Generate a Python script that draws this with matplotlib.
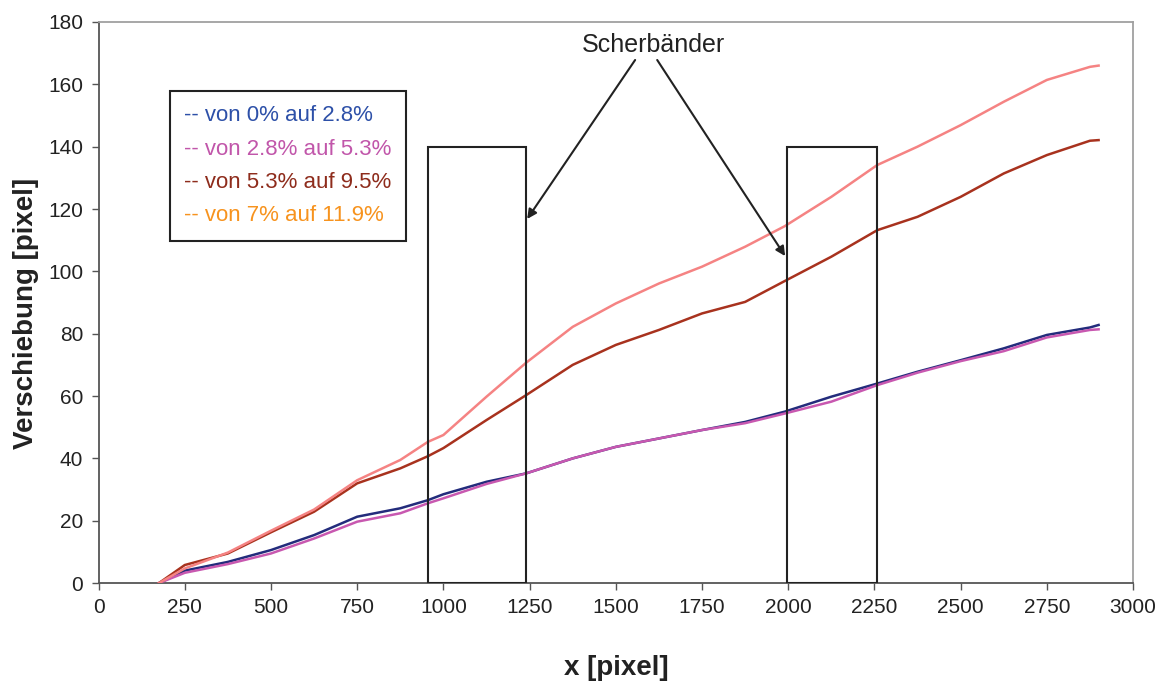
import matplotlib
matplotlib.use("Agg")
import matplotlib.pyplot as plt
from matplotlib.lines import Line2D
from matplotlib.patches import Rectangle

plt.rcParams['font.family'] = ['Liberation Sans', 'DejaVu Sans']

x = [175, 250, 375, 500, 625, 750, 875, 955, 1000, 1125, 1240, 1375, 1500,
     1625, 1750, 1875, 1990, 2125, 2258, 2375, 2500, 2625, 2750, 2875, 2900]
v_0_28 = [0, 4, 6.8, 10.6, 15.4, 21.3, 24, 26.6, 28.5, 32.5, 35.2, 40, 43.7,
          46.4, 49.1, 51.7, 55, 59.8, 64, 67.8, 71.5, 75.3, 79.6, 82, 82.8]
v_28_53 = [0, 3.3, 6.1, 9.5, 14.3, 19.7, 22.4, 25.6, 27.2, 31.8, 35.2, 40, 43.7,
           46.4, 49.1, 51.3, 54.4, 58.2, 63.5, 67.5, 71.2, 74.4, 78.8, 81.2, 81.4]
v_53_95 = [0, 5.8, 9.5, 16.3, 22.9, 32, 36.8, 40.7, 43.3, 52.3, 60.3, 70, 76.4,
           81.2, 86.5, 90.2, 96.9, 104.7, 113.2, 117.5, 123.9, 131.4, 137.3, 141.9, 142.1]
v_7_119 = [0, 4.7, 9.8, 16.8, 23.6, 33, 39.5, 45.3, 47.5, 59.8, 70.7, 82.2, 89.7,
           96.1, 101.5, 107.9, 114.5, 123.9, 134.1, 140, 146.9, 154.4, 161.4, 165.6, 166]

labels = ["-- von 0% auf 2.8%", "-- von 2.8% auf 5.3%",
          "-- von 5.3% auf 9.5%", "-- von 7% auf 11.9%"]
label_colors = ["#2D50A8", "#C156AA", "#8E2C1C", "#F7931E"]

# Scherbaender: x-Bereiche und Hoehe der Rahmen
bands = [(955, 1240), (1995, 2258)]
band_top = 140

fig = plt.figure(figsize=(11.65, 6.86), dpi=100)
ax = fig.add_axes([0.0846, 0.150, 0.888, 0.818])

ax.plot(x, v_0_28, color="#232C7C", lw=1.8, zorder=3)
ax.plot(x, v_28_53, color="#C858B0", lw=1.8, zorder=3)
ax.plot(x, v_53_95, color="#A8321E", lw=1.8, zorder=3)
ax.plot(x, v_7_119, color="#F58383", lw=1.8, zorder=3)

for x0, x1 in bands:
    ax.add_patch(Rectangle((x0, 0), x1 - x0, band_top, fill=False,
                           edgecolor="#222222", lw=1.5, zorder=4))

ax.text(1608, 172.6, "Scherbänder", fontsize=18, ha="center", va="center",
        color="#222222")
arrow = dict(arrowstyle="-|>", color="#222222", lw=1.5, mutation_scale=14,
             shrinkA=0, shrinkB=0)
ax.annotate("", xy=(1243, 116.8), xytext=(1556, 167.8), arrowprops=arrow)
ax.annotate("", xy=(1991, 104.9), xytext=(1620, 167.8), arrowprops=arrow)

ax.set_xlim(0, 3000)
ax.set_ylim(0, 180)
ax.set_xticks(range(0, 3001, 250))
ax.set_yticks(range(0, 181, 20))
ax.tick_params(direction="out", length=5, width=1, color="#555555",
               labelsize=15, labelcolor="#222222", pad=6)

for side in ("left", "bottom"):
    ax.spines[side].set_color("#555555")
    ax.spines[side].set_linewidth(1.3)
for side in ("top", "right"):
    ax.spines[side].set_color("#A0A0A0")
    ax.spines[side].set_linewidth(1.3)

ax.set_xlabel("x [pixel]", fontsize=20, fontweight="bold", color="#222222")
ax.set_ylabel("Verschiebung [pixel]", fontsize=20, fontweight="bold",
              color="#222222")
ax.xaxis.set_label_coords(0.5, -0.128)
ax.yaxis.set_label_coords(-0.058, 0.48)

handles = [Line2D([], [], linestyle="none") for _ in labels]
leg = ax.legend(handles, labels, loc="upper left", bbox_to_anchor=(0.069, 0.877),
                borderaxespad=0, handlelength=0, handletextpad=0,
                fontsize=16, labelcolor=label_colors, fancybox=False,
                framealpha=1, edgecolor="#222222", labelspacing=0.55,
                borderpad=0.65)
leg.get_frame().set_linewidth(1.5)

fig.savefig("out.png", dpi=100)
